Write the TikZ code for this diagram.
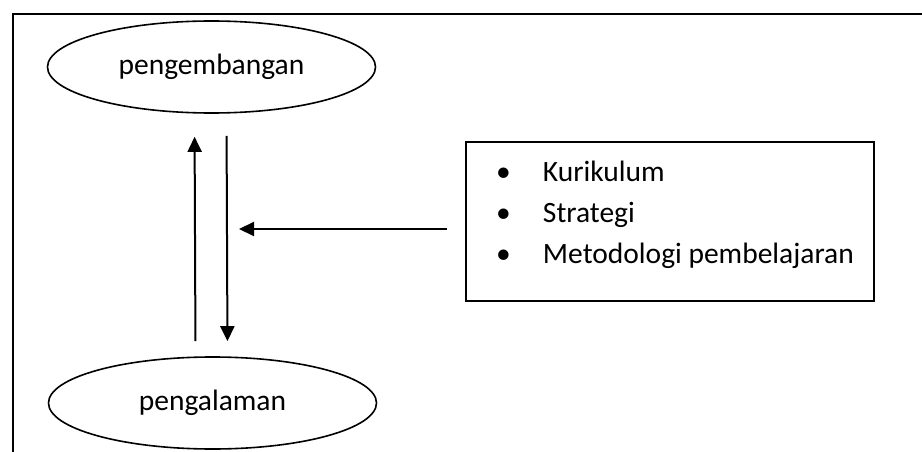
\documentclass[tikz,border=0pt]{standalone}
\usepackage{fontspec}
\setmainfont{Carlito}
\usetikzlibrary{shapes.geometric,arrows.meta,positioning}

\begin{document}
\begin{tikzpicture}[x=1pt,y=-1pt,
   tahap/.style={draw,ellipse,line width=1.6pt,minimum width=328pt,
      minimum height=92pt,font=\fontsize{29.5}{35}\selectfont},
   kotak/.style={draw,line width=2.4pt,minimum width=408pt,minimum height=159pt},
   daftar/.style={align=left,inner sep=0pt,font=\fontsize{29.5}{41}\selectfont},
   panah/.style={line width=2pt,-{Triangle[length=15pt,width=14pt]}}]
\useasboundingbox (0,0) rectangle (922,452);
\clip (0,0) rectangle (922,452);
% bingkai
\draw[line width=2pt] (13,14) rectangle (960,500);
\node[tahap] (kembang) at (211.5,67) {pengembangan};
\node[tahap] (alam) at (212.5,403) {pengalaman};
\node[kotak] (kotak) at (670,221.5) {};
\node[daftar,below right=20pt and 31pt of kotak.north west] (daftar)
   {\makebox[47pt][l]{•}Kurikulum\\
    \makebox[47pt][l]{•}Strategi\\
    \makebox[47pt][l]{•}Metodologi pembelajaran};
\coordinate (ujung) at (239,229);
% panah
\draw[panah,shorten <=15pt,shorten >=23pt] ([xshift=-17pt]alam.north) -- ([xshift=-17pt]kembang.south);
\draw[panah,shorten <=22pt,shorten >=15pt] ([xshift=15pt]kembang.south) -- ([xshift=15pt]alam.north);
\draw[panah,shorten <=18pt] ([yshift=-7.5pt]kotak.west) -- (ujung);
\end{tikzpicture}
\end{document}
